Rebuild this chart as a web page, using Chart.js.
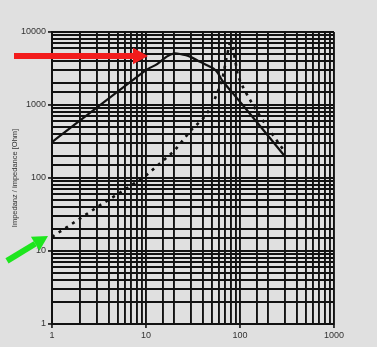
<!DOCTYPE html>
<html>
<head>
<meta charset="utf-8">
<script src="https://cdn.jsdelivr.net/npm/chart.js@4/dist/chart.umd.min.js"></script>
<style>
  html, body { margin: 0; padding: 0; background: #e0e0e0; }
  canvas { display: block; }
</style>
</head>
<body>
<canvas id="impChart" width="377" height="347"></canvas>
<script>
// frequency (x) and impedance (y) readings, log-log
const solidX = [1, 10, 13, 16.6, 20, 23, 29.4, 37.6, 52, 58.5, 64, 85, 150, 294];
const solidY = [310, 3010, 3600, 4600, 5100, 5000, 4600, 3900, 3180, 2720, 2200, 1420, 590, 205];

const dotX = [1, 2, 3.2, 5, 10, 20, 30, 40, 50, 60, 66, 72, 80, 88, 95, 110, 140, 180, 230, 285];
const dotY = [15.6, 28, 42, 60, 108, 235, 450, 640, 950, 1700, 2500, 4500, 8200, 4400, 2500, 1650, 960, 580, 370, 250];

const xTicks = [1, 10, 100, 1000];
const yTicks = [1, 10, 100, 1000, 10000];

const yTitle = 'Impedanz / impedance [Ohm]';

function pts(xs, ys) {
    return xs.map((x, i) => ({ x: x, y: ys[i] }));
}

function isLabel(list, v) {
    return list.some(t => Math.abs(t - v) < 1e-6 * t);
}

// annotation arrows (red at top, green at bottom left)
function drawArrow(ctx, x0, y0, x1, y1, color, w, head) {
    const a = Math.atan2(y1 - y0, x1 - x0);
    const bx = x1 - head * Math.cos(a), by = y1 - head * Math.sin(a);
    ctx.save();
    ctx.strokeStyle = color;
    ctx.fillStyle = color;
    ctx.lineWidth = w;
    ctx.beginPath();
    ctx.moveTo(x0, y0);
    ctx.lineTo(bx, by);
    ctx.stroke();
    ctx.beginPath();
    ctx.moveTo(x1, y1);
    ctx.lineTo(bx + head * 0.55 * Math.sin(a), by - head * 0.55 * Math.cos(a));
    ctx.lineTo(bx - head * 0.55 * Math.sin(a), by + head * 0.55 * Math.cos(a));
    ctx.closePath();
    ctx.fill();
    ctx.restore();
}

const arrows = {
    id: 'arrows',
    afterDraw(chart) {
        const ctx = chart.ctx;
        const xs = chart.scales.x, ys = chart.scales.y;
        // red arrow points at the top of the solid curve
        const rx = xs.getPixelForValue(10.5), ry = ys.getPixelForValue(4700);
        drawArrow(ctx, 14, ry, rx, ry, '#f21c1c', 6, 15);
        // green arrow points at the start of the dotted curve
        const gx = xs.getPixelForValue(1) - 4, gy = ys.getPixelForValue(dotY[0]) - 1;
        drawArrow(ctx, 7, gy + 25, gx, gy, '#1ee61e', 6, 15);
    }
};

const gridCol = '#121212';

new Chart(document.getElementById('impChart').getContext('2d'), {
    type: 'line',
    data: {
        datasets: [
            {
                data: pts(solidX, solidY),
                borderColor: '#111',
                borderWidth: 2.2,
                pointRadius: 0,
                tension: 0.25,
                fill: false
            },
            {
                data: pts(dotX, dotY),
                borderColor: '#111',
                borderWidth: 2.6,
                borderDash: [3, 5],
                pointRadius: 0,
                tension: 0,
                fill: false
            }
        ]
    },
    options: {
        responsive: false,
        animation: false,
        parsing: false,
        layout: { padding: { top: 32, right: 43, left: 0, bottom: 0 } },
        plugins: { legend: { display: false }, tooltip: { enabled: false } },
        scales: {
            x: {
                type: 'logarithmic',
                min: 1,
                max: 1000,
                grid: {
                    color: gridCol,
                    lineWidth: 1.9,
                    tickLength: 4,
                    tickColor: c => isLabel(xTicks, c.tick ? c.tick.value : 0) ? '#333' : 'rgba(0,0,0,0)'
                },
                border: { color: gridCol, width: 2 },
                ticks: {
                    autoSkip: false,
                    maxRotation: 0,
                    padding: 2,
                    color: '#333',
                    font: { family: 'Liberation Sans', size: 9 },
                    callback: v => isLabel(xTicks, v) ? String(v) : ''
                },
                afterFit: s => { s.height = 23; }
            },
            y: {
                type: 'logarithmic',
                min: 1,
                max: 10000,
                grid: {
                    color: gridCol,
                    lineWidth: 1.9,
                    tickLength: 4,
                    tickColor: c => isLabel(yTicks, c.tick ? c.tick.value : 0) ? '#333' : 'rgba(0,0,0,0)'
                },
                border: { color: gridCol, width: 2 },
                ticks: {
                    autoSkip: false,
                    padding: 2,
                    color: '#333',
                    font: { family: 'Liberation Sans', size: 9 },
                    callback: v => isLabel(yTicks, v) ? String(v) : ''
                },
                title: {
                    display: true,
                    text: yTitle,
                    color: '#333',
                    font: { family: 'Liberation Sans', size: 7.5 },
                    padding: { top: 10, bottom: 0 }
                },
                afterFit: s => { s.width = 52; }
            }
        }
    },
    plugins: [arrows]
});
</script>
</body>
</html>
